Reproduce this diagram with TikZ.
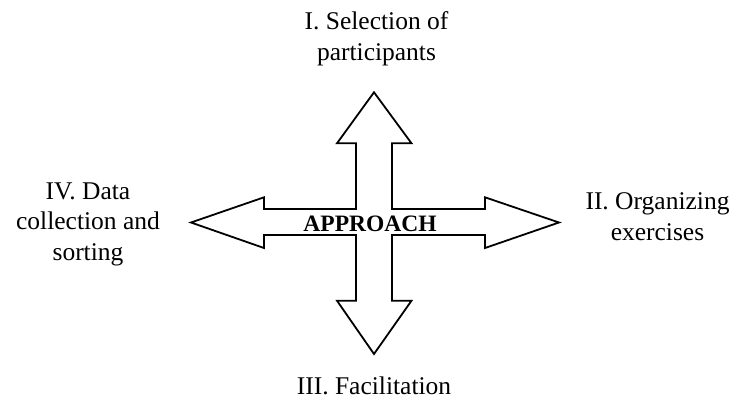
\documentclass[tikz,border=0pt]{standalone}
\usepackage{fontspec}
\setmainfont{Liberation Serif}
\begin{document}
\begin{tikzpicture}[x=1pt,y=-1pt,
  lbl/.style={inner sep=0pt,align=center,font=\fontsize{25.5}{30.5}\selectfont,anchor=base},
  ctr/.style={inner sep=0pt,font=\fontsize{23.5}{27}\selectfont\bfseries,anchor=base},
  crossarrow/.style={draw=black,line width=1.8pt,line join=miter,fill=white}]
\useasboundingbox (0,0) rectangle (734,399);
\draw[crossarrow]
  (374,92.3) -- (411.5,143.3) -- (392,143.3) -- (392,209) -- (485,209) -- (485,197.3)
  -- (559,222.5) -- (485,248) -- (485,235) -- (392,235) -- (392,300.7) -- (411.5,300.7)
  -- (374,354) -- (337,300.7) -- (356,300.7) -- (356,235) -- (264,235) -- (264,248)
  -- (191,222.5) -- (264,197.3) -- (264,209) -- (356,209) -- (356,143.3) -- (337,143.3) -- cycle;
\node[ctr] (center) at (370,231) {APPROACH};
\node[lbl] (top) at (376.5,60) {I. Selection of\\participants};
\node[lbl] (right) at (657.5,240) {II. Organizing\\exercises};
\node[lbl] (bottom) at (374,394) {III. Facilitation};
\node[lbl] (left) at (88,260) {IV. Data\\collection and\\sorting};
\end{tikzpicture}
\end{document}
